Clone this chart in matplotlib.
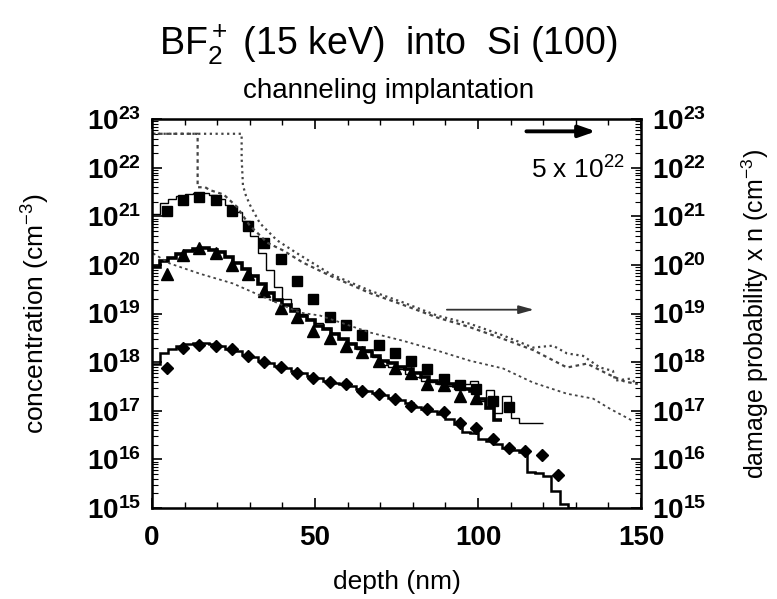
import numpy as np
import matplotlib
matplotlib.use("Agg")
import matplotlib.pyplot as plt
from matplotlib.ticker import LogLocator, FixedLocator, FuncFormatter, NullFormatter

plt.rcParams['font.family'] = ['Liberation Sans', 'DejaVu Sans']
plt.rcParams['mathtext.fontset'] = 'custom'
plt.rcParams['mathtext.rm'] = 'Liberation Sans'
plt.rcParams['mathtext.it'] = 'Liberation Sans:italic'
plt.rcParams['mathtext.bf'] = 'Liberation Sans:bold'

# ---------------- data (log10 of concentration, cm^-3) ----------------
bin_width = 2.5  # nm, histogram bins of the simulated profiles

# simulation, high dose (thin histogram, squares)
sim_sq_log = [21.05, 21.27, 21.35, 21.42, 21.47, 21.49, 21.48, 21.43, 21.35, 21.23,
              21.10, 20.90, 20.60, 20.25, 19.90, 19.55, 19.30, 19.12, 19.00, 18.88,
              18.80, 18.70, 18.60, 18.48, 18.40, 18.28, 18.20, 18.10, 17.95, 17.90,
              17.85, 17.75, 17.70, 17.62, 17.60, 17.55, 17.50, 17.45, 17.55, 17.62,
              17.20, 17.42, 16.95, 17.30, 16.85, 16.75, 16.75, 16.75]

# simulation, medium dose (thick histogram, triangles)
sim_tr_log = [19.95, 20.09, 20.15, 20.22, 20.28, 20.33, 20.34, 20.30, 20.26, 20.17,
              20.05, 19.92, 19.78, 19.60, 19.42, 19.28, 19.17, 19.05, 18.95, 18.86,
              18.75, 18.68, 18.58, 18.48, 18.38, 18.30, 18.22, 18.13, 18.03, 17.98,
              17.90, 17.85, 17.78, 17.70, 17.62, 17.57, 17.55, 17.50, 17.45, 17.40,
              17.25, 17.05, 16.80]

# simulation, low dose (histogram, diamonds)
sim_di_log = [17.97, 18.18, 18.28, 18.34, 18.38, 18.40, 18.40, 18.37, 18.33, 18.28,
              18.22, 18.15, 18.10, 18.03, 17.98, 17.92, 17.87, 17.82, 17.78, 17.72,
              17.67, 17.62, 17.58, 17.55, 17.50, 17.45, 17.40, 17.36, 17.32, 17.27,
              17.22, 17.15, 17.08, 17.04, 17.00, 16.93, 16.83, 16.73, 16.56, 16.54,
              16.42, 16.38, 16.32, 16.24, 16.20, 16.16, 15.74, 15.72, 15.66, 15.35,
              15.08, 15.00]

# SIMS measurements
meas_depth = [4.5, 9.5, 14.5, 19.5, 24.5, 29.5, 34.5, 39.5, 44.5, 49.5, 54.5,
              59.5, 64.5, 69.5, 74.5, 79.5, 84.5, 89.5, 94.5, 99.5, 104.5, 109.5,
              114.5, 119.5, 124.5]
squares_log = [21.12, 21.33, 21.39, 21.33, 21.12, 20.81, 20.46, 20.13, 19.68, 19.31,
               18.92, 18.77, 18.55, 18.36, 18.18, 18.03, 17.85, 17.66, 17.52, 17.45,
               17.21, 17.08]
triangles_log = [19.82, 20.20, 20.34, 20.24, 19.99, 19.82, 19.47, 19.12, 18.92, 18.65,
                 18.50, 18.34, 18.20, 18.03, 17.87, 17.78, 17.56, 17.52, 17.31, 17.27]
diamonds_log = [17.89, 18.30, 18.36, 18.34, 18.28, 18.13, 18.01, 17.91, 17.78, 17.68,
                17.60, 17.56, 17.41, 17.35, 17.25, 17.10, 17.04, 16.98, 16.75, 16.65,
                16.42, 16.24, 16.18, 16.08, 15.68]

# damage probability x n (right axis)
damA_depth = [0, 27.5, 27.5, 27.9, 28.8, 30.1, 33.1, 38.3, 44.5, 54.6, 66.9, 77.0,
              87.4, 97.5, 107.7, 116.9, 123.0, 127.3, 132.2, 137.4, 141.4, 142.0,
              146.6, 148.8]
damA_log = [22.70, 22.70, 22.20, 21.64, 21.43, 21.23, 20.86, 20.51, 20.24, 19.82,
            19.47, 19.23, 18.96, 18.79, 18.55, 18.30, 18.34, 18.18, 18.13, 17.89,
            17.82, 17.62, 17.66, 17.56]
damB_depth = [0, 14.0, 14.0, 16.3, 17.8, 22.0, 26.0, 30.0, 32.2, 35.3, 40.2, 46.3,
              54.6, 66.9, 77.0, 87.4, 97.5, 107.7, 116.9, 127.3, 133.4, 140.0, 145.0,
              149.0]
damB_log = [22.70, 22.70, 21.60, 21.60, 21.54, 21.45, 21.20, 20.81, 20.67, 20.46,
            20.30, 20.05, 19.78, 19.42, 19.18, 18.92, 18.72, 18.48, 18.25, 17.89,
            17.97, 17.75, 17.60, 17.55]
damC_depth = [0.3, 5.5, 14.7, 24.8, 35.3, 45.4, 51.5, 66.9, 77.0, 87.4, 97.5, 107.7,
              116.9, 127.3, 135.3, 140.5, 147.5]
damC_log = [20.24, 20.03, 19.82, 19.62, 19.31, 19.02, 18.96, 18.61, 18.44, 18.24,
            18.03, 17.87, 17.58, 17.35, 17.25, 17.04, 16.79]

xticks = [0, 50, 100, 150]
ydecades = list(range(15, 24))

# ---------------- figure ----------------
fig = plt.figure(figsize=(7.77, 5.99), dpi=100)
ax = fig.add_axes([0.1956, 0.152, 0.6294, 0.649])


def stairs(logs, **kw):
    vals = 10.0 ** np.asarray(logs)
    edges = np.arange(len(vals) + 1) * bin_width
    ax.stairs(vals, edges, baseline=None, **kw)


stairs(sim_sq_log, color='black', lw=1.0)
stairs(sim_tr_log, color='black', lw=2.6)
stairs(sim_di_log, color='black', lw=1.8)

ax.plot(meas_depth[:len(squares_log)], 10.0 ** np.asarray(squares_log), 's',
        color='black', ms=7.5, ls='none')
ax.plot(meas_depth[:len(triangles_log)], 10.0 ** np.asarray(triangles_log), '^',
        color='black', ms=8, ls='none')
ax.plot(meas_depth[:len(diamonds_log)], 10.0 ** np.asarray(diamonds_log), 'D',
        color='black', ms=6.5, ls='none')

ax.plot(damA_depth, 10.0 ** np.asarray(damA_log), color='#444444', lw=1.6, ls=(0, (1, 1.6)))
ax.plot(damB_depth, 10.0 ** np.asarray(damB_log), color='#444444', lw=1.6, ls=(0, (1.6, 1.6)))
ax.plot(damC_depth, 10.0 ** np.asarray(damC_log), color='#444444', lw=1.3, ls=(0, (1.5, 1.8)))

ax.set_yscale('log')
ax.set_xlim(0, 150)
ax.set_ylim(1e15, 1e23)

ax.xaxis.set_major_locator(FixedLocator(xticks))
ax.xaxis.set_minor_locator(FixedLocator(list(range(0, 151, 10))))
ax.yaxis.set_major_locator(FixedLocator([10.0 ** d for d in ydecades]))
ax.yaxis.set_minor_locator(LogLocator(base=10, subs=np.arange(2, 10), numticks=50))
ax.yaxis.set_minor_formatter(NullFormatter())

fmt = FuncFormatter(lambda v, p: r'$\mathbf{10^{%d}}$' % int(round(np.log10(v))))
ax.yaxis.set_major_formatter(fmt)
ax.xaxis.set_major_formatter(FuncFormatter(lambda v, p: '%d' % v))

ax.tick_params(axis='x', which='major', direction='in', length=7, width=1.2,
               labelsize=20, pad=12, top=True)
ax.tick_params(axis='x', which='minor', direction='in', length=4, width=1.0, top=True)
ax.tick_params(axis='y', which='major', direction='in', length=7, width=1.2,
               labelsize=20, pad=8)
ax.tick_params(axis='y', which='minor', direction='in', length=4, width=0.8)
for lab in ax.get_xticklabels():
    lab.set_fontweight('bold')

for s in ax.spines.values():
    s.set_linewidth(1.8)

ax2 = ax.twinx()
ax2.set_yscale('log')
ax2.set_ylim(1e15, 1e23)
ax2.yaxis.set_major_locator(FixedLocator([10.0 ** d for d in ydecades]))
ax2.yaxis.set_minor_locator(LogLocator(base=10, subs=np.arange(2, 10), numticks=50))
ax2.yaxis.set_minor_formatter(NullFormatter())
ax2.yaxis.set_major_formatter(fmt)
ax2.tick_params(axis='y', which='major', direction='in', length=7, width=1.2,
                labelsize=20, pad=8)
ax2.tick_params(axis='y', which='minor', direction='in', length=4, width=0.8)

ax.set_xlabel('depth (nm)', fontsize=19, labelpad=14)
ax.set_ylabel('concentration (cm$^{-3}$)', fontsize=19, labelpad=25)
ax2.set_ylabel('damage probability x n (cm$^{-3}$)', fontsize=18, labelpad=24)

# annotations
ax.annotate('', xy=(137, 10 ** 22.75), xytext=(114, 10 ** 22.75),
            arrowprops=dict(arrowstyle='-|>,head_length=1.0,head_width=0.35',
                            color='black', lw=2.8))
ax.text(145, 10 ** 21.95, r'5 x 10$^{22}$', fontsize=19, ha='right', va='center')
ax.annotate('', xy=(118, 10 ** 19.08), xytext=(89.6, 10 ** 19.08),
            arrowprops=dict(arrowstyle='-|>,head_length=0.9,head_width=0.25',
                            color='#333333', lw=1.3))

fig.text(0.5, 0.925, r'BF$_2^+$ (15 keV)  into  Si (100)', fontsize=27,
         ha='center', va='center')
fig.text(0.5, 0.848, 'channeling implantation', fontsize=20, ha='center', va='center')

fig.savefig('out.png', dpi=100)
